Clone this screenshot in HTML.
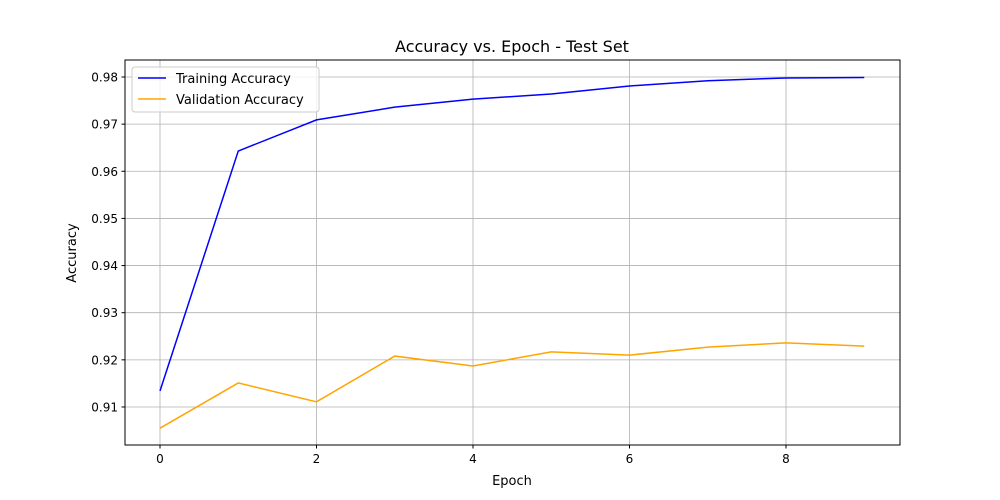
<!DOCTYPE html>
<html><head><meta charset="utf-8">
<style>
body{margin:0;background:#fff;}
svg{display:block;font-family:"DejaVu Sans","Liberation Sans",sans-serif;}
</style></head>
<body>
<svg id="chart" width="1000" height="500" viewBox="0 0 1000 500">
<rect x="0" y="0" width="1000" height="500" fill="#fff"/>
<g id="grid"></g>
<g id="series"></g>
<rect x="125" y="60" width="775" height="385" fill="none" stroke="#000" stroke-width="1"/>
<g id="ticks"></g>
<text x="512" y="52" font-size="16" text-anchor="middle" fill="#000">Accuracy vs. Epoch - Test Set</text>
<text x="512" y="485" font-size="13" text-anchor="middle" fill="#000">Epoch</text>
<text x="76" y="253" font-size="13" text-anchor="middle" fill="#000" transform="rotate(-90 76 253)">Accuracy</text>
<g>
<rect x="132" y="67" width="187" height="45" rx="3" fill="#fff" fill-opacity="0.8" stroke="#ccc"/>
<line x1="138" y1="78" x2="166" y2="78" stroke="blue" stroke-width="1.5"/>
<text x="176" y="83" font-size="13" fill="#000">Training Accuracy</text>
<line x1="138" y1="99" x2="166" y2="99" stroke="orange" stroke-width="1.5"/>
<text x="176" y="104" font-size="13" fill="#000">Validation Accuracy</text>
</g>
</svg>
<script>
const epochs=[0,1,2,3,4,5,6,7,8,9];
const trainAcc=[0.9134,0.9643,0.9709,0.9736,0.9753,0.9764,0.9781,0.9792,0.9798,0.9799];
const valAcc=[0.9055,0.9151,0.9111,0.9208,0.9187,0.9217,0.9210,0.9227,0.9236,0.9229];
const xTicks=[0,2,4,6,8];
const yTicks=[0.91,0.92,0.93,0.94,0.95,0.96,0.97,0.98];
const NS="http://www.w3.org/2000/svg";
const X0=125,X1=900,Y0=60,Y1=445;
function xs(v){return 160+v*78.25;}
function ys(v){return 77+(0.98-v)*4714;}
function mk(t,a,p){const e=document.createElementNS(NS,t);for(const k in a)e.setAttribute(k,a[k]);p.appendChild(e);return e;}
const grid=document.getElementById('grid'),ticks=document.getElementById('ticks'),series=document.getElementById('series');
xTicks.forEach(v=>{const x=xs(v);
 const g=mk('line',{x1:x,x2:x,y1:Y0,y2:Y1,stroke:'#b0b0b0','stroke-width':0.8},grid);
 
 
 const t=mk('line',{x1:x,x2:x,y1:Y1,y2:Y1+3.5,stroke:'#000'},ticks);
 
 
 const l=mk('text',{x:x,y:Y1+18,'font-size':12,'text-anchor':'middle',fill:'#000'},ticks);l.textContent=v;
 
 
});
yTicks.forEach(v=>{const y=ys(v);
 const g=mk('line',{x1:X0,x2:X1,y1:y,y2:y,stroke:'#b0b0b0','stroke-width':0.8},grid);
 
 
 const t=mk('line',{x1:X0-3.5,x2:X0,y1:y,y2:y,stroke:'#000'},ticks);
 
 
 const l=mk('text',{x:X0-7,y:y+4.5,'font-size':12,'text-anchor':'end',fill:'#000'},ticks);l.textContent=v.toFixed(2);
 
 
});
function line(vals,color,name){
 const p=mk('polyline',{points:vals.map((v,i)=>xs(epochs[i])+','+ys(v)).join(' '),fill:'none',stroke:color,'stroke-width':1.5},series);
 
 
}
line(trainAcc,'blue','training-accuracy-line');
line(valAcc,'orange','validation-accuracy-line');
</script>
</body></html>
